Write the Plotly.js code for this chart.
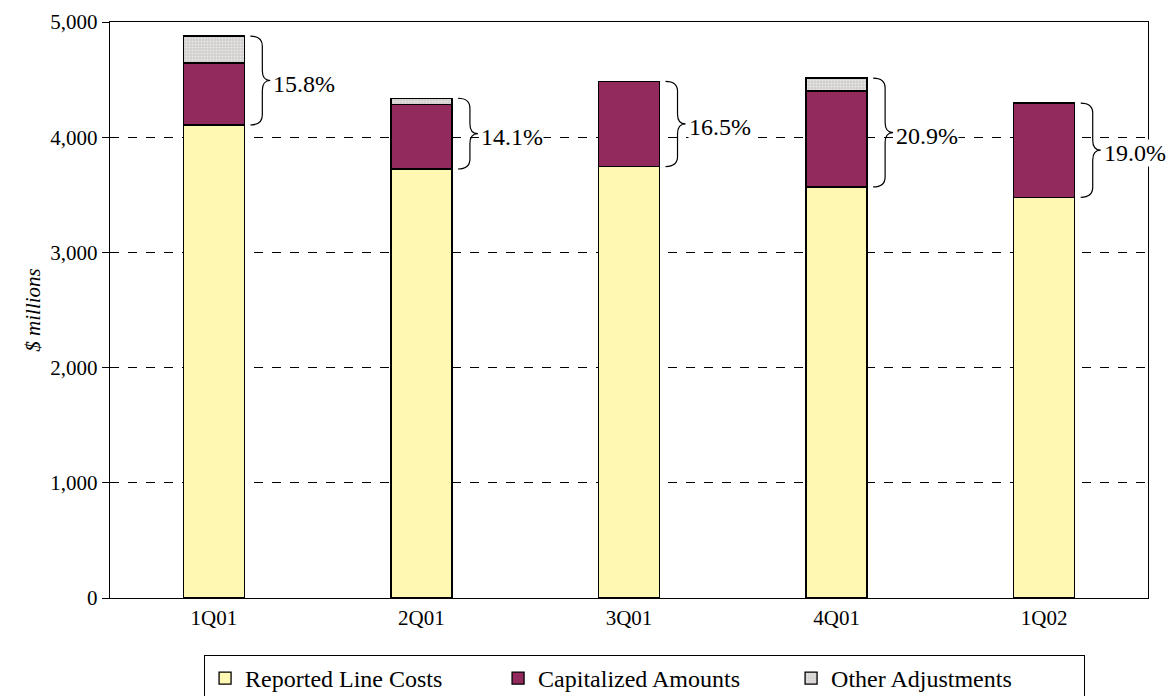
<!DOCTYPE html>
<html>
<head>
<meta charset="utf-8">
<script src="https://cdn.plot.ly/plotly-3.0.1.min.js"></script>
<style>html,body{margin:0;padding:0;background:#fff;}#chart{width:1167px;height:696px;}</style>
</head>
<body>
<div id="chart"></div>
<script>
const quarters = ['1Q01', '2Q01', '3Q01', '4Q01', '1Q02'];
const reportedLineCosts = [4106, 3724, 3745, 3568, 3478];
const capitalizedAmounts = [538, 562, 740, 833, 818];
const otherAdjustments = [234, 52, 0, 112, 0];
const pctLabels = ['15.8%', '14.1%', '16.5%', '20.9%', '19.0%'];
const yTicks = [0, 1000, 2000, 3000, 4000, 5000];

const FONT = '"Liberation Serif", "Times New Roman", serif';
const xIdx = quarters.map((q, i) => i);

const traces = [
  {type: 'bar', name: 'Reported Line Costs', x: xIdx, y: reportedLineCosts,
   marker: {color: '#FFF8B3', line: {color: '#000', width: 1.3}}, width: 0.294},
  {type: 'bar', name: 'Capitalized Amounts', x: xIdx, y: capitalizedAmounts,
   marker: {color: '#932A5E', line: {color: '#000', width: 1.3}}, width: 0.294},
  {type: 'bar', name: 'Other Adjustments', x: xIdx, y: otherAdjustments,
   marker: {color: '#D6D2D2', line: {color: '#000', width: 1.3},
            pattern: {shape: '.', fgcolor: '#ECECEC', bgcolor: '#D4D0D0', size: 3, solidity: 0.25}},
   width: 0.294}
];

// pixel-to-data conversions for brace geometry
const plotW = 1038, plotH = 576;
const pxX = 5 / plotW;      // x units per pixel
const pxY = 5000 / plotH;   // y units per pixel

const shapes = [];
const annotations = [];
xIdx.forEach(i => {
  const top = reportedLineCosts[i] + capitalizedAmounts[i] + otherAdjustments[i];
  const bot = reportedLineCosts[i];
  const mid = (top + bot) / 2;
  const x0 = i + 0.147 + 6 * pxX;
  const xv = x0 + 12 * pxX;
  const tip = x0 + 20 * pxX;
  const r = 10 * pxY;
  const path = `M ${x0},${top} Q ${xv},${top} ${xv},${top - r} L ${xv},${mid + r} ` +
               `Q ${xv},${mid} ${tip},${mid} Q ${xv},${mid} ${xv},${mid - r} ` +
               `L ${xv},${bot + r} Q ${xv},${bot} ${x0},${bot}`;
  shapes.push({type: 'path', xref: 'x', yref: 'y', path: path,
               line: {color: '#000', width: 1.2}, layer: 'above'});
  annotations.push({x: tip + 2 * pxX, y: mid, xref: 'x', yref: 'y', text: pctLabels[i],
                    showarrow: false, xanchor: 'left', yanchor: 'middle', yshift: -3,
                    font: {family: FONT, size: 24, color: '#000'},
                    bgcolor: '#fff', borderpad: 0});
});

const layout = {
  width: 1167, height: 696,
  margin: {l: 110, r: 19, t: 22, b: 98, autoexpand: false},
  paper_bgcolor: '#fff', plot_bgcolor: '#fff',
  barmode: 'stack',
  font: {family: FONT, size: 21, color: '#000'},
  showlegend: true,
  legend: {orientation: 'h', xref: 'paper', x: 0.515, xanchor: 'center',
           yref: 'container', y: 1 - 655 / 696, yanchor: 'top',
           bordercolor: '#000', borderwidth: 1, bgcolor: '#fff',
           font: {family: FONT, size: 24, color: '#000'},
           entrywidth: 248, traceorder: 'normal'},
  xaxis: {range: [-0.5, 4.5], tickvals: xIdx, ticktext: quarters, showgrid: false,
          zeroline: false, showline: true, linecolor: '#000', linewidth: 1.3, mirror: true,
          ticks: '', tickfont: {family: FONT, size: 21}, fixedrange: true, automargin: false},
  yaxis: {range: [0, 5000], tickvals: yTicks, tickformat: ',', showgrid: true,
          gridcolor: '#000', griddash: 'dash', gridwidth: 1, zeroline: false,
          showline: true, linecolor: '#000', linewidth: 1.3, mirror: true,
          ticks: 'outside', ticklen: 7, tickcolor: '#000', tickwidth: 1,
          tickfont: {family: FONT, size: 21}, automargin: false,
          title: {text: '$ millions', font: {family: FONT, size: 21, style: 'italic'}, standoff: 4}},
  shapes: shapes,
  annotations: annotations
};

Plotly.newPlot('chart', traces, layout, {displayModeBar: false, staticPlot: true});
</script>
</body>
</html>
